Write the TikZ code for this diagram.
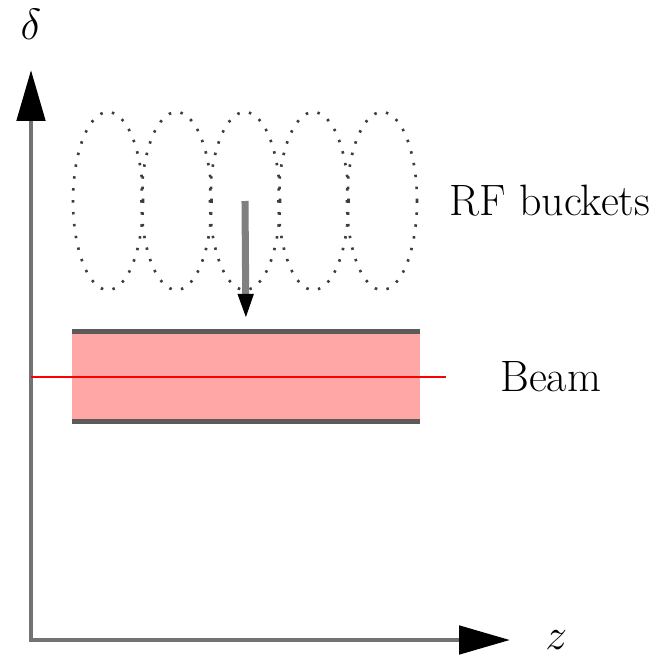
\documentclass[tikz,border=0pt]{standalone}
\usepackage{fontspec}
\usepackage{tikz}
\usepackage{xcolor}
\usetikzlibrary{arrows.meta, positioning, shapes.geometric}
\definecolor{axisGray}{RGB}{115,115,115}
\definecolor{kickGray}{RGB}{128,128,128}
\definecolor{beamPink}{RGB}{255,166,166}
\definecolor{edgeGray}{RGB}{95,90,90}
\definecolor{bucketDot}{RGB}{60,60,60}
\tikzset{
    axisline/.style={
        {Triangle[length=29pt, width=16pt, black]}-{Triangle[length=29pt, width=16pt, black]},
        line width=2.6pt,
        draw=axisGray,
        line join=miter
    },
    bucket/.style={
        ellipse,
        draw=bucketDot,
        line width=1.5pt,
        dash pattern=on 1.4pt off 5.4pt,
        minimum width=14mm,
        minimum height=35.6mm,
        inner sep=0pt
    },
    beambox/.style={
        rectangle,
        fill=beamPink,
        minimum width=69.6mm,
        minimum height=17.8mm,
        inner sep=0pt
    },
    beamedge/.style={line width=2.6pt, draw=edgeGray},
    centerline/.style={line width=1.3pt, draw=red},
    kickarrow/.style={-{Triangle[length=14.7pt, width=8pt, black]}, line width=4pt, draw=kickGray, shorten >=6.8pt},
    axislabel/.style={inner sep=0pt, font=\fontsize{29}{34}\selectfont},
    textlabel/.style={inner sep=0pt, font=\fontsize{25}{30}\selectfont}
}

\begin{document}
\begin{tikzpicture}[x=0.2mm, y=-0.2mm]
    \useasboundingbox (0,0) rectangle (656,656);
    \coordinate (origin) at (31,640);
    \coordinate (ytip) at (31,70);
    \coordinate (xtip) at (510,640);
    \draw[axisline] (ytip) -- (origin) -- (xtip);
    \node[axislabel, above=6mm of ytip] (deltalabel) {$\delta$};
    \node[axislabel, right=7mm of xtip] (zlabel) {$z$};
    \foreach \i in {1,...,5}
        \node[bucket] (bucket\i) at ({108+68.5*(\i-1)},201) {};
    \node[textlabel, right=6.2mm of bucket5] (rflabel) {RF buckets};
    \node[beambox] (beam) at (246,376.5) {};
    \draw[beamedge] (beam.north west) -- (beam.north east);
    \draw[beamedge] (beam.south west) -- (beam.south east);
    \coordinate (redend) at (446,377);
    \draw[centerline] (origin |- redend) -- (redend);
    \node[textlabel, right=10.8mm of redend] (beamlabel) {Beam};
    \draw[kickarrow] (bucket3.center) -- (beam.north);
\end{tikzpicture}
\end{document}
